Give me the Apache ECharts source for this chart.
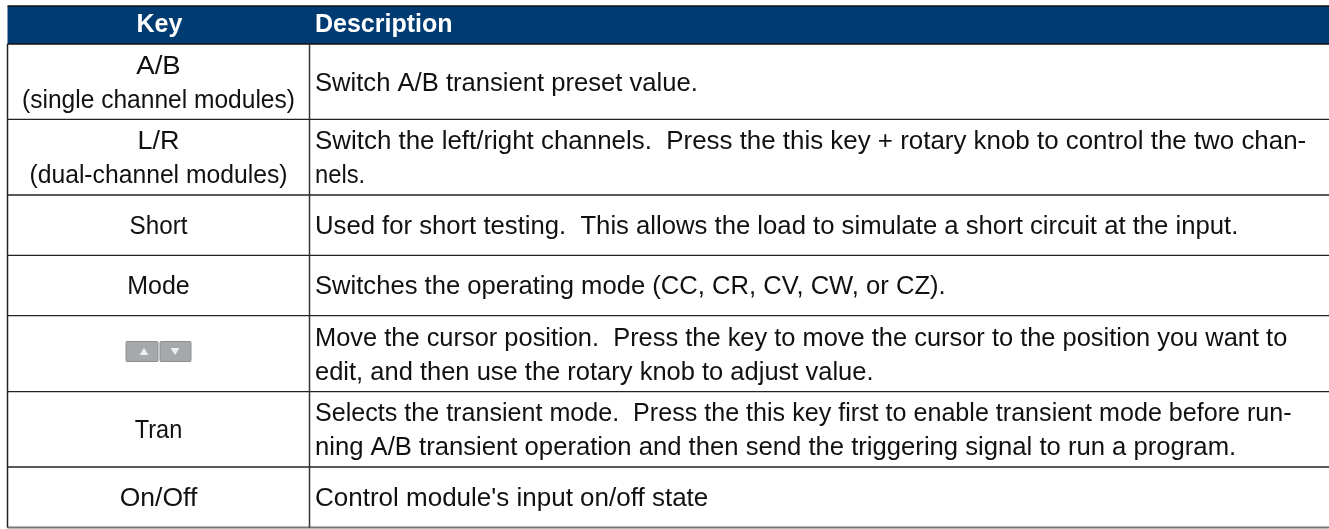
<!DOCTYPE html>
<html>
<head>
<meta charset="utf-8">
<style>
  html, body { margin: 0; padding: 0; background: #fff; }
  #chart { width: 1329px; height: 529px; }
</style>
<script src="https://cdn.jsdelivr.net/npm/echarts@6/dist/echarts.min.js"></script>
</head>
<body>
<div id="chart"></div>
<script>
(function() {
  // table content
  var headers = ['Key', 'Description'];
  var keyLines = [
    ['A/B', '(single channel modules)'],
    ['L/R', '(dual-channel modules)'],
    ['Short'],
    ['Mode'],
    [],
    ['Tran'],
    ['On/Off']
  ];
  var descLines = [
    ['Switch A/B transient preset value.'],
    ['Switch the left/right channels.  Press the this key + rotary knob to control the two chan-', 'nels.'],
    ['Used for short testing.  This allows the load to simulate a short circuit at the input.'],
    ['Switches the operating mode (CC, CR, CV, CW, or CZ).'],
    ['Move the cursor position.  Press the key to move the cursor to the position you want to', 'edit, and then use the rotary knob to adjust value.'],
    ['Selects the transient mode.  Press the this key first to enable transient mode before run-', 'ning A/B transient operation and then send the triggering signal to run a program.'],
    ["Control module's input on/off state"]
  ];
  var rowIndex = [0, 1, 2, 3, 4, 5, 6];

  // layout, in page pixels
  var rowEdges = [44, 119.3, 195, 255.3, 315.7, 391.7, 467, 527.6];
  var leftX = 7.5, splitX = 309.5, rightX = 1329, topY = 6;
  var keyCenter = 158.5, descLeft = 315, lineGap = 34, textDrop = 2;
  var fontFamily = '"Liberation Sans", sans-serif';
  var fontSize = 25;
  // the reference font has other widths, so each line gets its own horizontal stretch
  var keyStretch = [[1.1, 0.982], [1.08, 0.988], [0.97], [1], [], [0.94], [1.06]];
  var descStretch = [[1.024], [1.036, 0.95], [1.027], [1.024], [1.017, 1.02], [1.004, 1.026], [1.04]];

  function label(api, x, y, text, align, opt) {
    var p = api.coord([x, y]);
    return {
      type: 'text',
      x: p[0],
      y: p[1],
      scaleX: (opt && opt.stretch) || 1,
      style: {
        x: 0, y: 0, text: text,
        fill: (opt && opt.fill) || '#111',
        align: align, verticalAlign: 'middle',
        font: (opt && opt.font) || (fontSize + 'px ' + fontFamily)
      }
    };
  }

  function hline(api, y, x0, x1, color, width) {
    var a = api.coord([x0, y]), b = api.coord([x1, y]);
    return { type: 'line', shape: { x1: a[0], y1: a[1], x2: b[0], y2: b[1] }, style: { stroke: color, lineWidth: width } };
  }

  function vline(api, x, y0, y1, color, width) {
    var a = api.coord([x, y0]), b = api.coord([x, y1]);
    return { type: 'line', shape: { x1: a[0], y1: a[1], x2: b[0], y2: b[1] }, style: { stroke: color, lineWidth: width } };
  }

  // the up/down key picture in the fifth row
  function arrowKeys(api, cy) {
    var out = [];
    [[126, 158, 144, -1], [160, 191, 175, 1]].forEach(function(b) {
      var mid = b[2], dir = b[3];
      out.push({
        type: 'rect',
        shape: { x: b[0], y: cy - 10, width: b[1] - b[0], height: 20, r: 1 },
        style: { fill: '#a6a9ac', stroke: '#8c8f92', lineWidth: 1 }
      });
      out.push({
        type: 'polygon',
        shape: { points: [[mid - 4.5, cy - 3.5 * dir], [mid + 4.5, cy - 3.5 * dir], [mid, cy + 3.5 * dir]] },
        style: { fill: '#eceef0' }
      });
    });
    return out;
  }

  function renderRow(params, api) {
    var r = api.value(0);
    var top = rowEdges[r], bottom = rowEdges[r + 1], cy = (top + bottom) / 2 + textDrop;
    var kids = [];
    var keys = keyLines[r], descs = descLines[r];
    keys.forEach(function(t, i) {
      kids.push(label(api, keyCenter, cy + (i - (keys.length - 1) / 2) * lineGap, t, 'center', { stretch: keyStretch[r][i] }));
    });
    descs.forEach(function(t, i) {
      kids.push(label(api, descLeft, cy + (i - (descs.length - 1) / 2) * lineGap, t, 'left', { stretch: descStretch[r][i] }));
    });
    if (r === 4) kids = kids.concat(arrowKeys(api, 351.5));
    var last = r === rowIndex.length - 1;
    kids.push(hline(api, bottom, leftX, rightX, last ? '#777' : '#222', last ? 2 : 1.3));
    kids.push(vline(api, leftX, top, bottom, '#222', 1.5));
    kids.push(vline(api, splitX, top, bottom, '#333', 1.5));
    return { type: 'group', children: kids };
  }

  function renderHeader(params, api) {
    var a = api.coord([0, topY]), b = api.coord([rightX, rowEdges[0]]);
    var bold = 'bold 25px ' + fontFamily;
    return {
      type: 'group',
      children: [
        { type: 'rect', shape: { x: leftX, y: a[1], width: rightX - leftX, height: b[1] - a[1] }, style: { fill: '#003c71' } },
        hline(api, topY, leftX, rightX, '#111', 1.5),
        hline(api, rowEdges[0], leftX, rightX, '#111', 1.5),
        label(api, keyCenter + 1, 25, headers[0], 'center', { fill: '#fff', font: bold }),
        label(api, descLeft, 25, headers[1], 'left', { fill: '#fff', font: bold })
      ]
    };
  }

  var chart = echarts.init(document.getElementById('chart'));
  chart.setOption({
    animation: false,
    grid: { left: 0, right: 0, top: 0, bottom: 0 },
    xAxis: { type: 'value', min: 0, max: 1329, show: false },
    yAxis: { type: 'value', min: 0, max: 529, inverse: true, show: false },
    series: [
      { type: 'custom', data: [[0]], renderItem: renderHeader, silent: true, clip: false },
      { type: 'custom', data: rowIndex.map(function(r) { return [r]; }), renderItem: renderRow, silent: true, clip: false }
    ]
  });
  window.addEventListener('resize', function() { chart.resize(); });
})();
</script>
</body>
</html>
